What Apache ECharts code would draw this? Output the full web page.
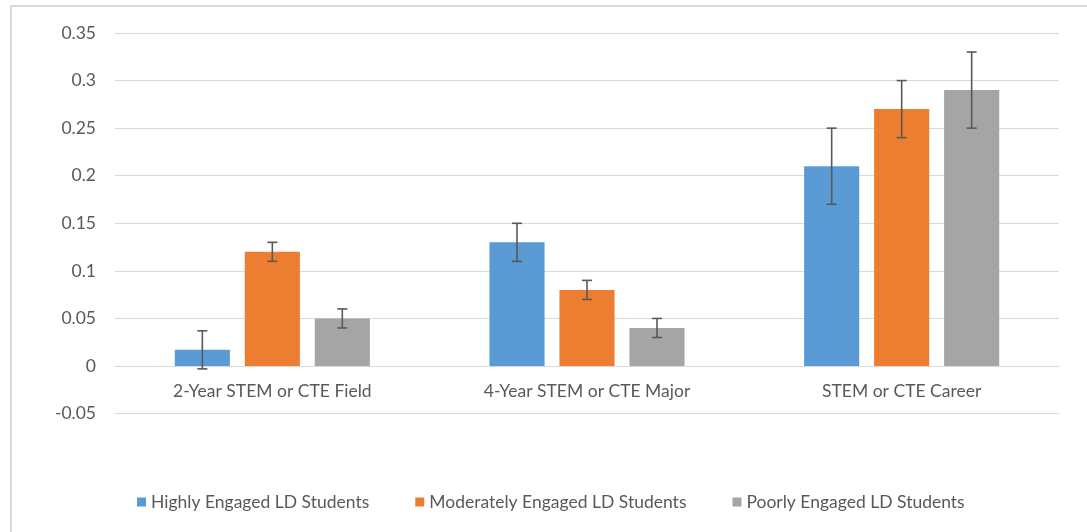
<!DOCTYPE html>
<html>
<head>
<meta charset="utf-8">
<script src="https://cdn.jsdelivr.net/npm/echarts@6/dist/echarts.min.js"></script>
<style>
  html, body { margin: 0; padding: 0; background: #fff; overflow: hidden; }
  #chart { width: 1087px; height: 532px; }
</style>
</head>
<body>
<div id="chart"></div>
<script>
const categories = ['2-Year STEM or CTE Field', '4-Year STEM or CTE Major', 'STEM or CTE Career'];
const seriesNames = ['Highly Engaged LD Students', 'Moderately Engaged LD Students', 'Poorly Engaged LD Students'];
const highly = [0.017, 0.13, 0.21];
const moderately = [0.12, 0.08, 0.27];
const poorly = [0.05, 0.04, 0.29];
const highlyErr = [0.02, 0.02, 0.04];
const moderatelyErr = [0.01, 0.01, 0.03];
const poorlyErr = [0.01, 0.01, 0.04];
const yMin = -0.05, yMax = 0.35, yStep = 0.05;

const colors = ['#5b9bd5', '#ed7d31', '#a5a5a5'];
const CAT_GAP = 0.38, BAR_GAP = 0.27;
const FONT = 'Lato';
const FS = 17.5;

function barSeries(idx, vals) {
  return {
    type: 'bar',
    name: seriesNames[idx],
    data: vals,
    barCategoryGap: (CAT_GAP * 100) + '%',
    barGap: (BAR_GAP * 100) + '%',
    itemStyle: { color: colors[idx] },
    emphasis: { disabled: true }
  };
}

function errSeries(idx, vals, errs) {
  return {
    type: 'custom',
    name: 'err' + idx,
    z: 10,
    silent: true,
    encode: { x: 0, y: [1, 2] },
    data: vals.map((v, i) => [i, v - errs[i], v + errs[i]]),
    renderItem: function (params, api) {
      const ci = api.value(0);
      const lo = api.coord([ci, api.value(1)]);
      const hi = api.coord([ci, api.value(2)]);
      const band = api.size([1, 0])[0];
      const used = band * (1 - CAT_GAP);
      const bw = used / (3 + 2 * BAR_GAP);
      const x = lo[0] - used / 2 + bw / 2 + idx * bw * (1 + BAR_GAP);
      const cap = 5;
      const style = { stroke: '#595959', lineWidth: 1.6 };
      return {
        type: 'group',
        children: [
          { type: 'line', shape: { x1: x, y1: lo[1], x2: x, y2: hi[1] }, style: style },
          { type: 'line', shape: { x1: x - cap, y1: hi[1], x2: x + cap, y2: hi[1] }, style: style },
          { type: 'line', shape: { x1: x - cap, y1: lo[1], x2: x + cap, y2: lo[1] }, style: style }
        ]
      };
    }
  };
}

const chart = echarts.init(document.getElementById('chart'), null, { renderer: 'canvas' });
chart.setOption({
  animation: false,
  backgroundColor: '#fff',
  graphic: [{
    type: 'rect',
    shape: { x: 11, y: 6, width: 1200, height: 700 },
    style: { fill: 'none', stroke: '#d9d9d9', lineWidth: 2 },
    silent: true
  }],
  grid: { left: 115, right: 28, top: 33, bottom: 118.4 },
  legend: {
    data: seriesNames,
    left: 137,
    top: 493,
    padding: 0,
    itemWidth: 9,
    itemHeight: 9,
    itemGap: 46,
    icon: 'rect',
    selectedMode: false,
    textStyle: { fontFamily: FONT, fontSize: FS, color: '#595959' }
  },
  xAxis: {
    type: 'category',
    data: categories,
    axisLine: { onZero: true, lineStyle: { color: '#d9d9d9', width: 1 } },
    axisTick: { show: false },
    axisLabel: { fontFamily: FONT, fontSize: FS, color: '#595959', margin: -31 },
    splitLine: { show: false }
  },
  yAxis: {
    type: 'value',
    min: yMin,
    max: yMax,
    interval: yStep,
    axisLine: { show: false },
    axisTick: { show: false },
    axisLabel: {
      fontFamily: FONT, fontSize: FS, color: '#595959', margin: 19,
      formatter: v => String(Math.round(v * 1000) / 1000)
    },
    splitLine: { lineStyle: { color: '#d9d9d9', width: 1 } }
  },
  series: [
    barSeries(0, highly),
    barSeries(1, moderately),
    barSeries(2, poorly),
    errSeries(0, highly, highlyErr),
    errSeries(1, moderately, moderatelyErr),
    errSeries(2, poorly, poorlyErr)
  ]
});
</script>
</body>
</html>
